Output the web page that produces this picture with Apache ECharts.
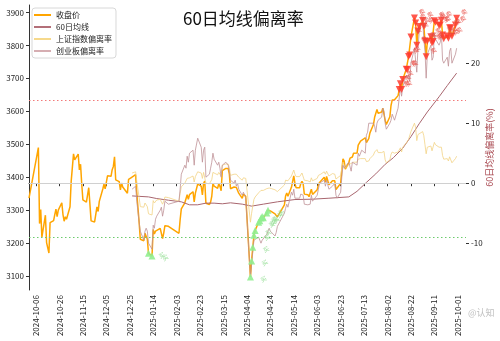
<!DOCTYPE html>
<html>
<head>
<meta charset="utf-8">
<title>60日均线偏离率</title>
<script src="https://cdn.jsdelivr.net/npm/echarts@6/dist/echarts.min.js"></script>
<style>
  html, body { margin: 0; padding: 0; background: #fff; }
  #main { width: 500px; height: 341px; }
</style>
</head>
<body>
<div id="main"></div>
<script>
// 交易日 & 上证收盘价
const dates = [
  '2024-09-30','2024-10-08','2024-10-09','2024-10-10','2024-10-11','2024-10-14','2024-10-15','2024-10-16','2024-10-17','2024-10-18',
  '2024-10-21','2024-10-22','2024-10-23','2024-10-24','2024-10-25','2024-10-28','2024-10-29','2024-10-30','2024-10-31',
  '2024-11-01','2024-11-04','2024-11-05','2024-11-06','2024-11-07','2024-11-08','2024-11-11','2024-11-12','2024-11-13','2024-11-14',
  '2024-11-15','2024-11-18','2024-11-19','2024-11-20','2024-11-21','2024-11-22','2024-11-25','2024-11-26','2024-11-27','2024-11-28','2024-11-29',
  '2024-12-02','2024-12-03','2024-12-04','2024-12-05','2024-12-06','2024-12-09','2024-12-10','2024-12-11','2024-12-12','2024-12-13',
  '2024-12-16','2024-12-17','2024-12-18','2024-12-19','2024-12-20','2024-12-23','2024-12-24','2024-12-25','2024-12-26','2024-12-27','2024-12-30','2024-12-31',
  '2025-01-02','2025-01-03','2025-01-06','2025-01-07','2025-01-08','2025-01-09','2025-01-10','2025-01-13','2025-01-14','2025-01-15',
  '2025-01-16','2025-01-17','2025-01-20','2025-01-21','2025-01-22','2025-01-23','2025-01-24','2025-01-27',
  '2025-02-05','2025-02-06','2025-02-07','2025-02-10','2025-02-11','2025-02-12','2025-02-13','2025-02-14','2025-02-17','2025-02-18',
  '2025-02-19','2025-02-20','2025-02-21','2025-02-24','2025-02-25','2025-02-26','2025-02-27','2025-02-28',
  '2025-03-03','2025-03-04','2025-03-05','2025-03-06','2025-03-07','2025-03-10','2025-03-11','2025-03-12','2025-03-13','2025-03-14',
  '2025-03-17','2025-03-18','2025-03-19','2025-03-20','2025-03-21','2025-03-24','2025-03-25','2025-03-26','2025-03-27','2025-03-28','2025-03-31',
  '2025-04-01','2025-04-02','2025-04-03','2025-04-07','2025-04-08','2025-04-09','2025-04-10','2025-04-11','2025-04-14','2025-04-15',
  '2025-04-16','2025-04-17','2025-04-18','2025-04-21','2025-04-22','2025-04-23','2025-04-24','2025-04-25','2025-04-28','2025-04-29','2025-04-30',
  '2025-05-06','2025-05-07','2025-05-08','2025-05-09','2025-05-12','2025-05-13','2025-05-14','2025-05-15','2025-05-16','2025-05-19',
  '2025-05-20','2025-05-21','2025-05-22','2025-05-23','2025-05-26','2025-05-27','2025-05-28','2025-05-29','2025-05-30',
  '2025-06-03','2025-06-04','2025-06-05','2025-06-06','2025-06-09','2025-06-10','2025-06-11','2025-06-12','2025-06-13','2025-06-16',
  '2025-06-17','2025-06-18','2025-06-19','2025-06-20','2025-06-23','2025-06-24','2025-06-25','2025-06-26','2025-06-27','2025-06-30',
  '2025-07-01','2025-07-02','2025-07-03','2025-07-04','2025-07-07','2025-07-08','2025-07-09','2025-07-10','2025-07-11','2025-07-14',
  '2025-07-15','2025-07-16','2025-07-17','2025-07-18','2025-07-21','2025-07-22','2025-07-23','2025-07-24','2025-07-25','2025-07-28','2025-07-29','2025-07-30','2025-07-31',
  '2025-08-01','2025-08-04','2025-08-05','2025-08-06','2025-08-07','2025-08-08','2025-08-11','2025-08-12','2025-08-13','2025-08-14',
  '2025-08-15','2025-08-18','2025-08-19','2025-08-20','2025-08-21','2025-08-22','2025-08-25','2025-08-26','2025-08-27','2025-08-28','2025-08-29',
  '2025-09-01','2025-09-02','2025-09-03','2025-09-04','2025-09-05','2025-09-08','2025-09-09','2025-09-10','2025-09-11','2025-09-12',
  '2025-09-15','2025-09-16','2025-09-17','2025-09-18','2025-09-19','2025-09-22','2025-09-23','2025-09-24','2025-09-25','2025-09-26','2025-09-29','2025-09-30'
];
const closes = [
  3336.5,3489.8,3258.9,3301.9,3217.7,3284.3,3201.3,3203.0,3169.4,3261.6,
  3268.1,3285.9,3302.8,3280.3,3299.7,3322.2,3286.4,3266.2,3279.8,
  3272.0,3310.2,3387.0,3383.8,3470.7,3452.3,3470.1,3422.0,3439.3,3379.8,
  3330.7,3323.9,3346.0,3368.0,3370.4,3267.2,3263.8,3259.8,3309.8,3295.7,3326.5,
  3364.0,3378.8,3364.7,3368.9,3404.1,3402.5,3422.7,3432.5,3461.5,3391.9,
  3386.3,3361.5,3382.2,3370.0,3368.1,3351.3,3393.5,3393.4,3398.1,3400.1,3407.3,3351.8,
  3262.6,3211.4,3206.9,3229.6,3230.2,3211.4,3168.5,3160.8,3240.9,3227.1,
  3236.0,3241.8,3244.4,3242.6,3213.6,3230.2,3252.6,3250.6,
  3229.5,3270.7,3303.7,3322.2,3318.1,3346.4,3332.5,3346.7,3355.8,3324.5,
  3351.5,3350.8,3379.1,3373.0,3346.0,3380.2,3388.1,3320.9,
  3316.9,3324.2,3342.0,3381.1,3372.6,3366.2,3379.8,3371.9,3358.7,3419.6,
  3426.4,3429.8,3426.4,3409.0,3364.8,3370.0,3370.0,3368.7,3373.8,3351.3,3335.8,
  3348.4,3350.1,3342.0,3096.6,3145.6,3186.8,3223.6,3238.2,3262.8,3267.7,
  3276.0,3280.3,3276.7,3291.4,3299.8,3296.4,3297.3,3295.1,3288.4,3286.7,3279.0,
  3316.1,3342.7,3352.0,3342.0,3369.2,3374.9,3404.0,3380.8,3367.5,3367.6,
  3380.5,3387.6,3380.2,3348.4,3346.8,3340.7,3339.9,3363.5,3347.5,
  3362.0,3376.2,3384.1,3385.4,3399.8,3384.8,3402.3,3402.7,3377.0,3388.8,
  3387.4,3388.8,3362.1,3359.9,3381.6,3420.6,3456.0,3448.5,3424.2,3444.4,
  3457.8,3454.8,3461.2,3472.3,3473.1,3497.5,3493.1,3509.7,3510.2,3519.7,
  3505.0,3503.8,3516.8,3534.5,3559.8,3581.9,3582.3,3605.7,3593.7,3597.9,3609.7,3615.7,3573.2,
  3560.0,3583.3,3617.6,3634.0,3639.7,3635.1,3647.6,3665.9,3683.5,3666.4,
  3696.8,3728.0,3727.3,3766.2,3771.1,3825.8,3883.6,3868.4,3800.4,3843.6,3857.9,
  3875.5,3858.1,3813.6,3765.9,3812.5,3826.8,3807.3,3812.2,3875.3,3870.6,
  3860.5,3861.9,3876.3,3831.7,3820.1,3828.6,3821.8,3853.6,3853.3,3828.1,3862.5,3882.8
];

// 60日均线
const maDates = ['2024-12-27','2025-01-10','2025-01-17','2025-01-27','2025-02-07','2025-02-14','2025-02-21','2025-02-28',
  '2025-03-07','2025-03-14','2025-03-21','2025-03-31','2025-04-08','2025-04-18','2025-04-30','2025-05-15','2025-05-30',
  '2025-06-13','2025-06-30','2025-07-07','2025-07-15','2025-07-23','2025-07-31','2025-08-07','2025-08-15','2025-08-22',
  '2025-08-29','2025-09-05','2025-09-15','2025-09-22','2025-09-30'];
const maValues = [3343,3340,3335,3330,3325,3316,3316,3321,3321,3319,3322,3318,3312,3318,3325,3332,3333,
  3336,3340,3357,3384,3410,3439,3459,3488,3523,3562,3598,3644,3678,3716];

// 偏离率(%)，从 2024-12-27 开始
const devStartDate = '2024-12-27';
const devSH = [
  1.7,1.9,0.3,
  -2.4,-3.9,-4.0,-3.3,-3.3,-3.9,-5.1,-5.3,-2.9,-3.3,-3.0,-2.8,-2.7,-2.7,-3.5,-3.0,-2.3,-2.4,
  -3.0,-1.7,-0.6,0.0,-0.1,0.8,0.5,0.9,1.2,0.2,1.1,1.1,1.9,1.7,0.8,1.8,2.0,0.0,
  -0.1,0.1,0.6,1.8,1.6,1.4,1.8,1.6,1.2,3.0,3.2,3.3,3.2,2.6,1.3,1.5,1.5,1.5,1.7,1.0,0.5,
  0.9,1.0,0.8,-6.5,-5.0,-3.8,-2.7,-2.3,-1.6,-1.5,-1.2,-1.1,-1.2,-0.9,-0.6,-0.8,-0.8,-0.9,-1.1,-1.1,-1.4,
  -0.3,0.5,0.7,0.4,1.2,1.3,2.2,1.5,1.1,1.1,1.4,1.7,1.4,0.5,0.4,0.2,0.2,0.9,0.4,
  0.8,1.3,1.5,1.5,1.9,1.5,2.0,2.0,1.2,1.6,1.5,1.5,0.7,0.7,1.3,2.5,3.5,3.2,2.5,3.1,
  3.4,3.3,3.3,3.5,3.5,4.0,3.8,4.1,4.0,4.1,3.6,3.4,3.7,4.1,4.7,5.2,5.0,5.6,5.1,5.1,5.3,5.3,3.9,
  3.4,3.9,4.8,5.2,5.2,5.0,5.2,5.5,5.9,5.2,6.0,6.7,6.4,7.3,7.3,8.6,10.0,9.3,7.1,8.1,8.3,
  8.6,7.9,6.4,4.9,6.0,6.2,5.4,5.3,6.8,6.4,6.0,5.8,6.0,4.6,4.0,4.1,3.7,4.4,4.2,3.4,4.1,4.5
];
const devCYB = [
  -1.0,-0.5,-3.0,
  -6.5,-8.0,-9.5,-8.0,-7.5,-8.0,-10.0,-11.0,-7.0,-7.5,-6.0,-5.5,-4.5,-4.0,-5.5,-4.5,-3.0,-3.5,
  -3.0,-1.0,1.5,3.0,2.5,4.5,3.5,5.0,5.5,3.0,5.5,5.5,7.5,6.0,3.5,5.5,6.0,1.0,
  1.5,2.5,3.5,5.0,4.0,3.0,3.5,2.5,1.0,3.0,3.5,3.5,3.0,2.0,0.5,0.0,0.5,-0.5,0.0,-1.0,-2.0,
  -1.5,-1.5,-2.5,-15.6,-13.5,-11.5,-9.5,-9.8,-9.0,-9.5,-10.0,-9.5,-9.8,-8.5,-8.0,-7.5,-8.0,-8.3,-8.8,-8.2,-7.2,
  -5.0,-4.2,-3.5,-4.0,-1.5,-2.0,-1.0,-2.5,-2.8,-2.5,-1.8,-1.5,-2.0,-3.5,-3.6,-3.8,-3.5,-2.0,-3.0,
  -2.0,-1.0,0.0,0.0,0.5,-0.5,0.5,0.5,-1.0,-0.5,-0.5,0.0,-2.0,-2.5,-1.5,1.0,3.0,2.5,2.5,3.5,
  3.5,2.0,3.5,3.5,3.0,5.0,4.5,4.5,5.5,5.0,8.0,8.5,10.0,10.0,10.0,9.5,8.5,10.0,10.5,11.0,12.5,12.0,10.0,
  9.0,10.0,10.5,11.5,11.0,10.5,12.5,14.2,16.0,14.5,16.0,18.0,17.5,18.0,17.0,20.0,22.5,22.5,18.5,22.5,25.0,
  27.5,24.0,22.0,17.5,21.5,23.0,20.5,21.0,25.0,24.0,23.0,23.5,25.0,20.5,20.0,21.0,19.5,22.0,22.5,20.0,21.5,22.5
];

// 阈值线
const upLine = 13.8;
const downLine = -9;

// 信号日
const sellDates = ['2025-08-12','2025-08-13','2025-08-14','2025-08-15','2025-08-18','2025-08-19','2025-08-20','2025-08-21',
  '2025-08-22','2025-08-25','2025-08-26','2025-08-27','2025-08-28','2025-08-29',
  '2025-09-01','2025-09-02','2025-09-03','2025-09-04','2025-09-05','2025-09-08','2025-09-09','2025-09-10','2025-09-11',
  '2025-09-12','2025-09-15','2025-09-16','2025-09-17','2025-09-18','2025-09-19','2025-09-22','2025-09-23','2025-09-24',
  '2025-09-25','2025-09-26','2025-09-29','2025-09-30'];
const buyDates = ['2025-01-10','2025-01-13','2025-04-07','2025-04-08','2025-04-09','2025-04-10','2025-04-11','2025-04-14',
  '2025-04-15','2025-04-16','2025-04-17','2025-04-18','2025-04-21','2025-04-22'];

// 坐标轴刻度
const xTicks = ['2024-10-06','2024-10-26','2024-11-15','2024-12-05','2024-12-25','2025-01-14','2025-02-03','2025-02-23',
  '2025-03-15','2025-04-04','2025-04-24','2025-05-14','2025-06-03','2025-06-23','2025-07-13','2025-08-02','2025-08-22',
  '2025-09-11','2025-10-01'];
const leftTicks = [3100, 3200, 3300, 3400, 3500, 3600, 3700, 3800, 3900];
const rightTicks = [-10, 0, 10, 20];

const FONT = '"Noto Sans CJK SC", "Noto Sans", sans-serif';

// 日期 -> 时间戳（本地时间）
function ts(s) {
  const p = s.split('-').map(Number);
  return new Date(p[0], p[1] - 1, p[2]).getTime();
}
function pad(n) { return n < 10 ? '0' + n : '' + n; }
function fmtDate(v) {
  const d = new Date(v);
  return d.getFullYear() + '-' + pad(d.getMonth() + 1) + '-' + pad(d.getDate());
}

const devStart = dates.indexOf(devStartDate);
const closeData = dates.map((d, i) => [ts(d), closes[i]]);
const maData = maDates.map((d, i) => [ts(d), maValues[i]]);
const shData = devSH.map((v, i) => [ts(dates[devStart + i]), v]);
const cybData = devCYB.map((v, i) => [ts(dates[devStart + i]), v]);
const sellData = sellDates.map(d => [ts(d), closes[dates.indexOf(d)]]);
const buyData = buyDates.map(d => [ts(d), closes[dates.indexOf(d)]]);
const xTickValues = xTicks.map(ts);

const chart = echarts.init(document.getElementById('main'), null, { renderer: 'canvas' });

// 水平参考线（右轴）
function hLine(value, color, dash) {
  return {
    name: 'ref',
    type: 'line',
    yAxisIndex: 1,
    data: [],
    silent: true,
    color: color,
    z: 1,
    markLine: {
      silent: true,
      symbol: 'none',
      label: { show: false },
      lineStyle: { color: color, type: dash, width: 1, opacity: 1 },
      emphasis: { disabled: true },
      data: [{ yAxis: value, lineStyle: { color: color, type: dash, width: 1 } }]
    }
  };
}

const option = {
  animation: false,
  textStyle: { fontFamily: FONT },
  title: {
    text: '60日均线偏离率',
    left: 178,
    top: 5,
    textStyle: { fontSize: 17, fontWeight: 'normal', color: '#111', fontFamily: FONT }
  },
  legend: {
    data: ['收盘价', '60日均线', '上证指数偏离率', '创业板偏离率'],
    orient: 'vertical',
    left: 32,
    top: 8,
    padding: [2, 4, 2, 2],
    itemGap: 2,
    itemWidth: 17,
    itemHeight: 2,
    icon: 'rect',
    backgroundColor: '#fff',
    borderColor: '#d8d8d8',
    borderWidth: 1,
    borderRadius: 3,
    textStyle: { fontSize: 8, color: '#222', fontFamily: FONT, lineHeight: 10 }
  },
  grid: {
    left: 29,
    right: 34,
    top: 5,
    bottom: 51,
    containLabel: false,
    outerBoundsMode: 'none'
  },
  // 时间用数值轴表示，刻度每 20 天
  xAxis: {
    type: 'value',
    min: ts('2024-09-30'),
    max: ts('2025-10-08'),
    axisLine: { show: true, lineStyle: { color: '#333', width: 1 } },
    axisTick: { show: true, length: 3, lineStyle: { color: '#333' }, customValues: xTickValues },
    axisLabel: {
      rotate: 90,
      fontSize: 8,
      color: '#222',
      margin: 5,
      customValues: xTickValues,
      formatter: v => fmtDate(v)
    },
    splitLine: { show: false }
  },
  yAxis: [
    {
      type: 'value',
      min: 3057.2,
      max: 3922.9,
      axisLine: { show: true, lineStyle: { color: '#333', width: 1 } },
      axisTick: { show: true, length: 3, lineStyle: { color: '#333' }, customValues: leftTicks },
      axisLabel: { fontSize: 8, color: '#222', margin: 5, customValues: leftTicks, formatter: v => String(Math.round(v)) },
      splitLine: { show: false }
    },
    {
      type: 'value',
      position: 'right',
      min: -17.8,
      max: 29.7,
      name: '60日均线偏离率(%)',
      nameLocation: 'middle',
      nameRotate: 90,
      nameGap: 19,
      nameMoveOverlap: false,
      nameTextStyle: { color: '#A8474F', fontSize: 9, fontFamily: FONT },
      axisLine: { show: false },
      axisTick: { show: true, length: 3, lineStyle: { color: '#333' }, customValues: rightTicks },
      axisLabel: { fontSize: 8, color: '#222', margin: 5, customValues: rightTicks, formatter: v => String(Math.round(v)) },
      splitLine: { show: false }
    }
  ],
  series: [
    hLine(0, '#d0d0d0', 'solid'),
    hLine(upLine, '#F27A7A', [1.5, 2.5]),
    hLine(downLine, '#6CCB6C', [1.5, 2.5]),
    {
      name: '收盘价',
      type: 'line',
      yAxisIndex: 0,
      data: closeData,
      showSymbol: false,
      z: 3,
      itemStyle: { color: '#FFA500' },
      lineStyle: { color: '#FFA500', width: 1.5 }
    },
    {
      name: '60日均线',
      type: 'line',
      yAxisIndex: 0,
      data: maData,
      showSymbol: false,
      z: 3,
      itemStyle: { color: '#B36F78' },
      lineStyle: { color: '#A8656E', width: 1 }
    },
    {
      name: '上证指数偏离率',
      type: 'line',
      yAxisIndex: 1,
      data: shData,
      showSymbol: false,
      z: 4,
      itemStyle: { color: '#F6D98C' },
      lineStyle: { color: '#F2D385', width: 0.8 }
    },
    {
      name: '创业板偏离率',
      type: 'line',
      yAxisIndex: 1,
      data: cybData,
      showSymbol: false,
      z: 4,
      itemStyle: { color: '#D6AEB2' },
      lineStyle: { color: '#BF9297', width: 0.8 }
    },
    {
      name: '卖出',
      type: 'scatter',
      yAxisIndex: 0,
      data: sellData,
      symbol: 'triangle',
      symbolRotate: 180,
      symbolSize: 7,
      z: 6,
      itemStyle: { color: '#FF3B2F', opacity: 0.85 },
      label: {
        show: true,
        formatter: '卖',
        position: 'right',
        offset: [-1, -6],
        rotate: 30,
        fontSize: 6,
        color: '#E8473E'
      }
    },
    {
      name: '买入',
      type: 'scatter',
      yAxisIndex: 0,
      data: buyData,
      symbol: 'triangle',
      symbolSize: 7,
      z: 6,
      itemStyle: { color: '#90EE90', opacity: 0.9 },
      label: {
        show: true,
        formatter: '买',
        position: 'right',
        offset: [0, 4],
        rotate: 30,
        fontSize: 6,
        color: '#8FDD8F'
      }
    }
  ],
  graphic: [
    {
      type: 'text',
      left: 468,
      top: 308,
      style: { text: '@认知', fontSize: 9, fill: '#c0c0c0', fontFamily: FONT }
    }
  ]
};

chart.setOption(option);
</script>
</body>
</html>
